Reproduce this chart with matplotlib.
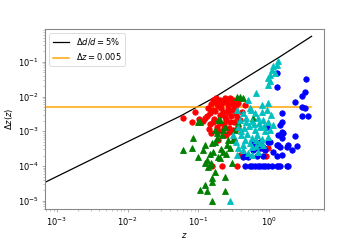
import matplotlib
matplotlib.use("Agg")
import matplotlib.pyplot as plt

# distance-error curve (Delta d / d = 5%)
curve_z = [6.8e-4, 1e-3, 1e-2, 0.055, 0.163, 0.485, 1.43, 4.0]
curve_dz = [3.4e-5, 5e-5, 5e-4, 2.7e-3, 9.0e-3, 0.036, 0.14, 0.54]

# red circles
red_z = [0.0615, 0.0908, 0.0823, 0.1175, 0.163, 0.152, 0.179, 0.204, 0.24, 0.282,
         0.311, 0.366, 0.459, 0.138, 0.163, 0.191, 0.225, 0.265, 0.301, 0.134,
         0.168, 0.204, 0.248, 0.292, 0.343, 0.148, 0.185, 0.232, 0.273, 0.321,
         0.366, 0.152, 0.198, 0.248, 0.311, 0.391, 0.417, 0.343, 0.218, 0.265,
         0.157, 0.218, 0.354, 0.968, 0.907, 0.391, 0.321, 0.191, 0.126, 0.103,
         0.145, 0.175, 0.21, 0.26, 0.33, 0.17, 0.215, 0.255, 0.3, 0.35,
         0.16, 0.2, 0.235, 0.28, 0.185, 0.27, 0.14, 0.23]
red_dz = [2.43e-3, 3.62e-3, 1.87e-3, 2.0e-3, 8.0e-3, 6.2e-3, 9.2e-3, 8.0e-3, 9.2e-3, 9.2e-3,
          8.0e-3, 6.6e-3, 5.8e-3, 4.72e-3, 4.14e-3, 5.4e-3, 3.62e-3, 5.8e-3, 4.14e-3, 2.78e-3,
          2.28e-3, 2.97e-3, 2.13e-3, 2.78e-3, 3.39e-3, 1.63e-3, 1.34e-3, 1.63e-3, 1.25e-3, 1.87e-3,
          1.25e-3, 9.0e-4, 1.03e-3, 7.9e-4, 1.1e-3, 2.13e-3, 3.62e-3, 5.8e-3, 6.6e-3, 3.62e-3,
          1.0e-4, 1.0e-4, 1.0e-4, 3.3e-4, 1.95e-4, 2.09e-4, 5.6e-4, 5.6e-4, 2.43e-3, 2.28e-3,
          3.3e-3, 3.9e-3, 4.6e-3, 4.4e-3, 4.9e-3, 7.0e-3, 7.4e-3, 7.0e-3, 6.0e-3, 2.5e-3,
          1.9e-3, 1.7e-3, 2.5e-3, 1.8e-3, 6.0e-3, 9.5e-4, 1.2e-3, 1.25e-3]

# blue circles
blue_z = [1.297, 1.297, 3.32, 3.21, 2.92, 2.32, 2.92, 3.21, 2.92, 3.54,
          1.52, 1.52, 1.43, 1.52, 1.34, 1.52, 1.43, 1.79, 2.11, 2.32,
          2.48, 1.52, 1.85, 1.43, 0.937, 1.033, 0.635, 0.823, 0.747, 0.595,
          0.43, 1.138, 0.576, 0.747, 0.968, 1.297, 0.635, 0.797, 0.459, 0.678,
          0.823, 1.297, 0.506, 0.879, 1.57, 1.85, 1.34,
          0.459, 0.54, 0.576, 0.635, 0.70, 0.747, 0.823, 0.879, 0.968, 1.10,
          1.30, 1.34, 1.79]
blue_dz = [0.048, 0.019, 0.032, 0.0136, 0.0105, 7.0e-3, 5.0e-3, 4.7e-3, 2.8e-3, 2.8e-3,
           3.4e-3, 1.87e-3, 1.53e-3, 9.6e-4, 7.9e-4, 6.5e-4, 3.55e-4, 3.55e-4, 2.9e-4, 7.4e-4,
           3.8e-4, 2.1e-4, 1e-4, 1e-4, 1.34e-3, 4.95e-4, 4.06e-4, 3.55e-4, 3.33e-4, 2.9e-4,
           1.83e-4, 2.55e-4, 4.95e-4, 4.95e-4, 4.95e-4, 4.06e-4, 3.33e-4, 3.33e-4, 1.95e-4, 2.0e-4,
           2.0e-4, 1.95e-4, 1.83e-4, 2.9e-4, 9.0e-4, 4.06e-4, 4.06e-4,
           1e-4, 1e-4, 1e-4, 1e-4, 1e-4, 1e-4, 1e-4, 1e-4, 1e-4, 1e-4,
           1e-4, 1e-4, 1e-4]

# green triangles
green_z = [0.0615, 0.0823, 0.0851, 0.1, 0.1255, 0.134, 0.138, 0.157, 0.157, 0.1255,
           0.1067, 0.134, 0.24, 0.24, 0.157, 0.1626, 0.1853, 0.204, 0.301, 0.225,
           0.256, 0.1067, 0.1476, 0.191, 0.218, 0.1735, 0.24, 0.204, 0.391, 0.43,
           0.354, 0.366, 0.595, 0.332, 0.265, 0.1, 0.191, 0.1853, 0.225, 0.282,
           0.157, 0.1175, 0.1735, 0.311, 0.1255, 0.152, 0.21, 0.17, 0.25, 0.145]
green_dz = [2.91e-4, 3.33e-4, 6.5e-4, 1.83e-4, 4.06e-4, 1.5e-4, 9.4e-5, 4.5e-5, 3.5e-5, 2.85e-5,
            2.05e-5, 1.91e-5, 4.85e-5, 1.91e-5, 9.9e-6, 2.55e-4, 6.5e-4, 1.71e-4, 1.23e-4, 2.55e-4,
            4.06e-4, 1.87e-3, 1.08e-4, 1.83e-4, 7.9e-4, 1.1e-3, 1.34e-3, 2.13e-3, 9.8e-3, 9.2e-3,
            9.8e-3, 1.75e-3, 2.43e-3, 1.1e-3, 5.6e-4, 1.87e-3, 2.13e-3, 9.0e-4, 1.1e-3, 3.33e-4,
            4.6e-4, 2.91e-4, 6.8e-5, 5.6e-4, 1.23e-4, 1.23e-4, 3.0e-4, 5.0e-4, 2.2e-4, 2.2e-4]

# cyan triangles
cyan_z = [1.339, 1.297, 1.138, 1.102, 1.033, 0.968, 1.033, 0.968, 1.215, 0.656,
          0.506, 0.968, 0.797, 0.558, 0.354, 0.43, 0.54, 0.635, 0.797, 0.937,
          1.067, 0.391, 0.474, 0.576, 0.70, 0.823, 0.968, 1.138, 0.366, 0.444,
          0.523, 0.635, 0.747, 0.879, 1.033, 0.404, 0.49, 0.576, 0.678, 0.797,
          0.968, 0.343, 0.43, 0.54, 0.656, 0.823, 0.366, 0.43, 0.506, 0.576,
          0.354, 0.576, 0.70, 0.282, 0.459, 0.311, 0.747, 0.61, 0.72, 0.86,
          0.48, 0.66, 0.4]
cyan_dz = [0.107, 0.082, 0.0767, 0.0588, 0.0422, 0.0346, 0.0283, 0.0217, 0.0482, 0.0128,
           8.0e-3, 6.6e-3, 5.8e-3, 4.14e-3, 4.14e-3, 3.39e-3, 4.72e-3, 3.39e-3, 3.62e-3, 4.14e-3,
           2.97e-3, 2.13e-3, 2.43e-3, 2.0e-3, 2.43e-3, 2.13e-3, 1.87e-3, 1.53e-3, 1.34e-3, 1.25e-3,
           1.43e-3, 1.1e-3, 1.34e-3, 1.03e-3, 1.1e-3, 7.9e-4, 8.4e-4, 6.5e-4, 7.9e-4, 6.0e-4,
           6.9e-4, 4.95e-4, 4.06e-4, 4.6e-4, 3.8e-4, 4.06e-4, 3.33e-4, 2.91e-4, 2.39e-4, 3.55e-4,
           2.09e-4, 2.09e-4, 2.55e-4, 9.9e-6, 5.6e-4, 7.9e-4, 4.6e-4, 1.6e-3, 1.7e-3, 1.4e-3,
           1.8e-3, 5.5e-4, 1.0e-3]

dz_const = 0.005

fig = plt.figure(figsize=(6, 4), dpi=60)
ax = fig.add_subplot(111)
fig.subplots_adjust(left=0.125, right=0.9, top=0.88, bottom=0.128)

ax.plot(curve_z, curve_dz, 'k-', label=r'$\Delta d/d = 5\%$')
ax.axhline(dz_const, xmax=0.953, color='orange', lw=1.8, label=r'$\Delta z = 0.005$')
ax.plot(red_z, red_dz, 'ro', ms=6.5)
ax.plot(blue_z, blue_dz, 'bo', ms=6.5)
ax.plot(green_z, green_dz, 'g^', ms=6.5)
ax.plot(cyan_z, cyan_dz, 'c^', ms=6.5)

ax.set_xscale('log')
ax.set_yscale('log')
ax.set_xlim(6.8e-4, 6.0)
ax.set_ylim(5.7e-6, 0.89)
ax.set_xlabel(r'$z$')
ax.set_ylabel(r'$\Delta z(z)$')
for s in ax.spines.values():
    s.set_color('#888888')
    s.set_linewidth(1.3)
ax.tick_params(which='both', color='#888888')
ax.legend(loc='upper left')

plt.savefig('out.png', dpi=60)
